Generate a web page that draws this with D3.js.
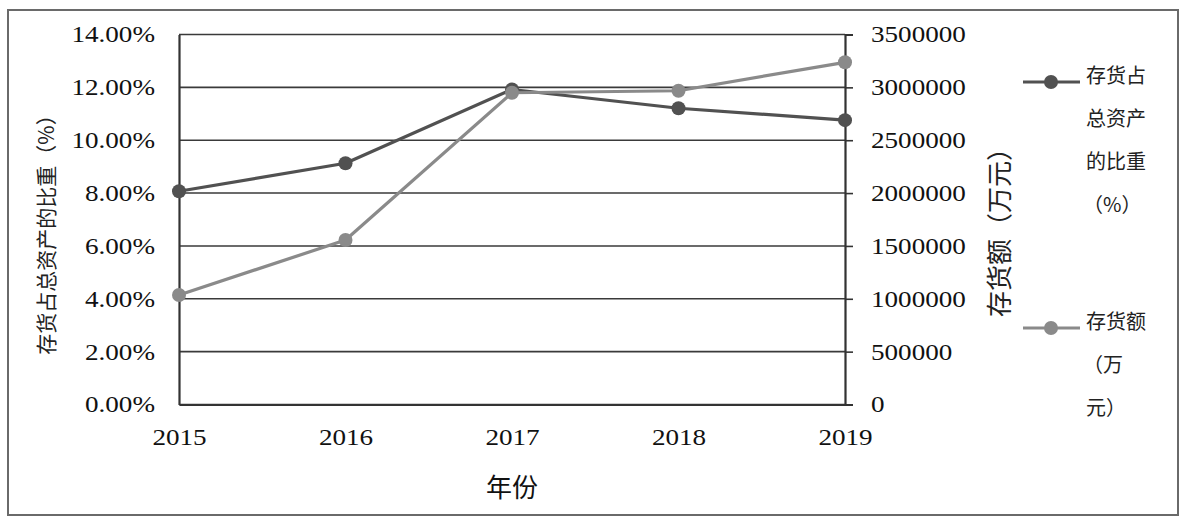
<!DOCTYPE html>
<html>
<head>
<meta charset="utf-8">
<script src="https://cdn.jsdelivr.net/npm/d3@7/dist/d3.min.js"></script>
<style>
  html, body { margin: 0; padding: 0; background: #fff; }
  svg { display: block; }
</style>
</head>
<body>
<svg id="chart" width="1186" height="524"></svg>
<script>
// ---- data ----
const years = ["2015", "2016", "2017", "2018", "2019"];
const shareValues = [8.07, 9.13, 11.92, 11.21, 10.76];          // 存货占总资产的比重（%）
const amountValues = [1036000, 1556000, 2949000, 2968000, 3237000]; // 存货额（万元）
const leftTicks = [0, 2, 4, 6, 8, 10, 12, 14];
const rightTicks = [0, 500000, 1000000, 1500000, 2000000, 2500000, 3000000, 3500000];
const leftTitle = "存货占总资产的比重（%）";
const rightTitle = "存货额（万元）";
const xTitle = "年份";
const legendShare = ["存货占", "总资产", "的比重", "（%）"];
const legendAmount = ["存货额", "（万", "元）"];

// ---- layout ----
const svg = d3.select("#chart");
const L = 179, R = 845, T = 34.5, B = 404.5;
const SX = 1.18; // horizontal stretch of numeric labels
const darkC = "#515151", lightC = "#8a8a8a", axisC = "#333";
const numFont = "'Liberation Serif', 'Times New Roman', serif";
const cjkFont = "'Noto Sans CJK SC', sans-serif";

// outer frame
svg.append("rect").attr("x", 8).attr("y", 10).attr("width", 1170).attr("height", 505)
  .attr("fill", "none").attr("stroke", "#6a6a6a").attr("stroke-width", 2);

const x = d3.scalePoint().domain(years).range([L, R]);
const yL = d3.scaleLinear().domain([0, 14]).range([B, T]);
const yR = d3.scaleLinear().domain([0, 3500000]).range([B, T]);

// gridlines
svg.append("g").selectAll("line").data(leftTicks).join("line")
  .attr("x1", L).attr("x2", R).attr("y1", d => yL(d)).attr("y2", d => yL(d))
  .attr("stroke", "#3a3a3a").attr("stroke-width", 1.6);

// left axis
const gL = svg.append("g").attr("transform", `translate(${L},0)`)
  .call(d3.axisLeft(yL).tickValues(leftTicks).tickSize(0).tickPadding(24)
    .tickFormat(d => d.toFixed(2) + "%"));
gL.select(".domain").attr("stroke", axisC).attr("stroke-width", 2.2);
gL.selectAll("text").attr("font-family", numFont).attr("font-size", 23).attr("fill", "#111")
  .attr("x", -24 / SX).attr("transform", `scale(${SX},1)`);

// right axis
const gR = svg.append("g").attr("transform", `translate(${R},0)`)
  .call(d3.axisRight(yR).tickValues(rightTicks).tickSizeInner(8).tickSizeOuter(8).tickPadding(18)
    .tickFormat(d3.format("d")));
gR.select(".domain").attr("stroke", axisC).attr("stroke-width", 2.2);
gR.selectAll(".tick line").attr("stroke", axisC).attr("stroke-width", 1.6);
gR.selectAll("text").attr("font-family", numFont).attr("font-size", 23).attr("fill", "#111")
  .attr("x", 26 / SX).attr("transform", `scale(${SX},1)`);

// bottom axis
const gB = svg.append("g").attr("transform", `translate(0,${B})`)
  .call(d3.axisBottom(x).tickSize(0).tickPadding(24));
gB.select(".domain").attr("stroke", axisC).attr("stroke-width", 2.2);
gB.selectAll("text").attr("font-family", numFont).attr("font-size", 23).attr("fill", "#111")
  .attr("transform", function() {
    const px = +d3.select(this.parentNode).attr("transform").match(/translate\(([-\d.]+)/)[1];
    return `translate(${-px * (SX - 1) / SX * 0},0)`;
  })
  .each(function() {
    const t = d3.select(this);
    const tick = d3.select(this.parentNode);
    tick.attr("transform", tick.attr("transform") + ` scale(${SX},1)`);
  });

// axis titles
svg.append("text").attr("transform", `translate(54,${(T + B) / 2 + 10}) rotate(-90)`)
  .attr("text-anchor", "middle").attr("font-family", cjkFont).attr("font-size", 21)
  .attr("fill", "#222").text(leftTitle);
svg.append("text").attr("transform", `translate(1009,226) rotate(-90)`)
  .attr("text-anchor", "middle").attr("font-family", cjkFont).attr("font-size", 26)
  .attr("fill", "#222").text(rightTitle);
svg.append("text").attr("x", (L + R) / 2).attr("y", 497)
  .attr("text-anchor", "middle").attr("font-family", cjkFont).attr("font-size", 26)
  .attr("fill", "#111").text(xTitle);

// series
function drawSeries(values, scale, color) {
  const line = d3.line().x((d, i) => x(years[i])).y(d => scale(d));
  svg.append("path").datum(values).attr("d", line).attr("fill", "none")
    .attr("stroke", color).attr("stroke-width", 3.2).attr("stroke-linejoin", "round");
  svg.append("g").selectAll("circle").data(values).join("circle")
    .attr("cx", (d, i) => x(years[i])).attr("cy", d => scale(d)).attr("r", 7)
    .attr("fill", color);
}
drawSeries(shareValues, yL, darkC);
drawSeries(amountValues, yR, lightC);

// legend
function legend(y0, lines, color) {
  svg.append("line").attr("x1", 1023).attr("x2", 1080).attr("y1", y0).attr("y2", y0)
    .attr("stroke", color).attr("stroke-width", 3.2);
  svg.append("circle").attr("cx", 1051).attr("cy", y0).attr("r", 7).attr("fill", color);
  lines.forEach((s, i) => {
    svg.append("text").attr("x", s.startsWith("（") && i > 0 ? 1083 : 1086).attr("y", y0 + 1 + i * 43)
      .attr("font-family", cjkFont).attr("font-size", 20).attr("fill", "#222").text(s);
  });
}
legend(82, legendShare, darkC);
legend(328, legendAmount, lightC);
</script>
</body>
</html>
